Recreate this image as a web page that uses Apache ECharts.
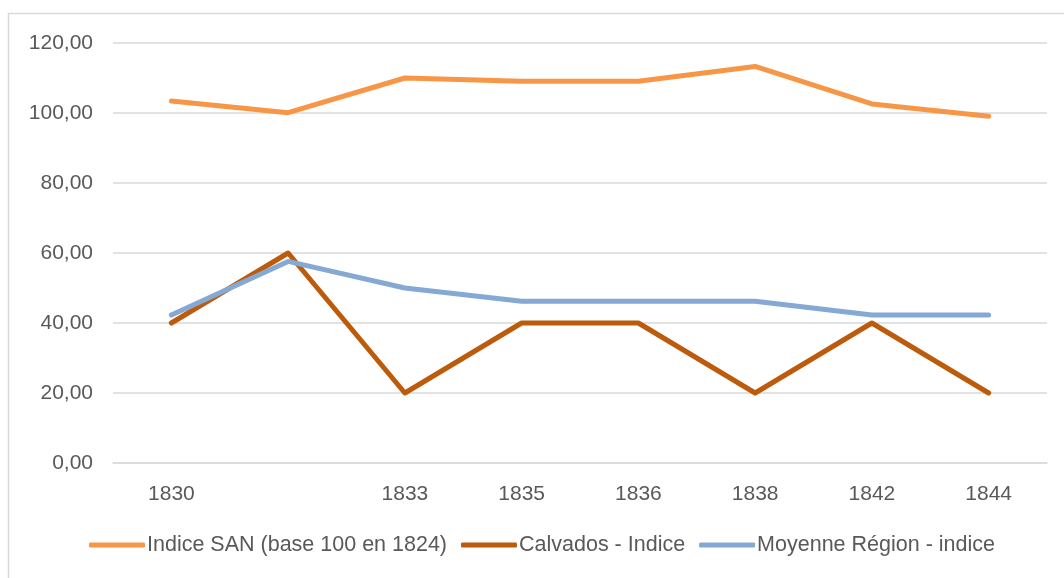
<!DOCTYPE html>
<html>
<head>
<meta charset="utf-8">
<script src="https://cdn.jsdelivr.net/npm/echarts@6/dist/echarts.min.js"></script>
<style>
    html, body { margin: 0; padding: 0; background: #fff; }
    #myChart { width: 1064px; height: 578px; }
</style>
</head>
<body>
<div id="myChart"></div>
<script>
    // années (la 2e catégorie n'a pas d'étiquette)
    var years = ['1830', '', '1833', '1835', '1836', '1838', '1842', '1844'];
    var indiceSan = [103.4, 100.1, 110.0, 109.1, 109.1, 113.3, 102.6, 99.1];
    var calvados = [40, 60, 20, 40, 40, 20, 40, 20];
    var moyenneRegion = [42.3, 57.6, 50.0, 46.2, 46.2, 46.2, 42.3, 42.3];
    var yTicks = [0, 20, 40, 60, 80, 100, 120];

    var fontFam = '"Liberation Sans", Arial, sans-serif';
    var grey = '#595959';

    function lineSerie(name, data, color) {
        return {
            name: name,
            type: 'line',
            data: data,
            symbol: 'none',
            lineStyle: { width: 5, color: color, cap: 'round', join: 'round' },
            itemStyle: { color: color }
        };
    }

    var option = {
        backgroundColor: '#fff',
        animation: false,
        textStyle: { fontFamily: fontFam },
        graphic: [{
            type: 'rect',
            shape: { x: 8.5, y: 13.5, width: 1200, height: 700 },
            style: { fill: 'none', stroke: '#d9d9d9', lineWidth: 1.5 }
        }],
        grid: { left: 113, right: 17, top: 43, bottom: 115 },
        legend: {
            bottom: 17,
            left: 84,
            itemWidth: 56,
            itemHeight: 5,
            itemGap: 14,
            icon: 'roundRect',
            textStyle: { fontSize: 21.5, color: grey, fontFamily: fontFam, padding: [0, 0, 0, -3] },
            data: ['Indice SAN (base 100 en 1824)', 'Calvados - Indice', 'Moyenne Région - indice']
        },
        xAxis: {
            type: 'category',
            data: years,
            boundaryGap: true,
            axisLine: { show: true, lineStyle: { color: '#d9d9d9', width: 1.5 } },
            axisTick: { show: false },
            axisLabel: { color: grey, fontSize: 21, margin: 21, interval: 0 }
        },
        yAxis: {
            type: 'value',
            min: yTicks[0],
            max: yTicks[yTicks.length - 1],
            interval: 20,
            axisLine: { show: false },
            axisTick: { show: false },
            splitLine: { lineStyle: { color: '#d9d9d9', width: 1.5 } },
            axisLabel: {
                color: grey,
                fontSize: 21,
                margin: 20,
                formatter: function (v) { return v.toFixed(2).replace('.', ','); }
            }
        },
        series: [
            lineSerie('Indice SAN (base 100 en 1824)', indiceSan, '#F79646'),
            lineSerie('Calvados - Indice', calvados, '#BC5B0B'),
            lineSerie('Moyenne Région - indice', moyenneRegion, '#85A8D4')
        ]
    };

    var myChart = echarts.init(document.getElementById('myChart'));
    myChart.setOption(option);
</script>
</body>
</html>
